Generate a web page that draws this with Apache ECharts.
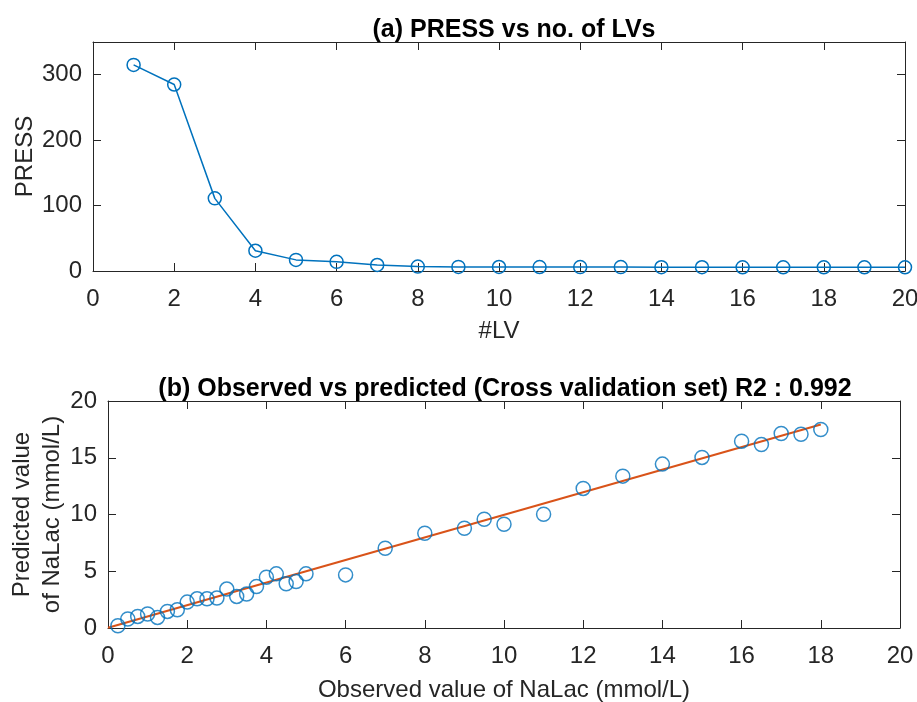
<!DOCTYPE html>
<html>
<head>
<meta charset="utf-8">
<script src="https://cdn.jsdelivr.net/npm/echarts@6/dist/echarts.min.js"></script>
<style>html,body{margin:0;padding:0;background:#fff}#c{width:917px;height:702px}</style>
</head>
<body>
<div id="c"></div>
<script>
// ---- data ----
var lvCounts = [1,2,3,4,5,6,7,8,9,10,11,12,13,14,15,16,17,18,19,20];
var pressValues = [315,285,111,31,17,14,9.2,6.7,6.3,6.2,6.1,6,6,5.8,5.8,5.7,5.7,5.7,5.7,5.7];
var observedValues = [0.25,0.5,0.75,1,1.25,1.5,1.75,2,2.25,2.5,2.75,3,3.25,3.5,3.75,4,4.25,4.5,4.75,5,6,7,8,9,9.5,10,11,12,13,14,15,16,16.5,17,17.5,18];
var predictedValues = [0.2,0.79,1.02,1.23,0.93,1.46,1.61,2.28,2.57,2.57,2.64,3.43,2.78,2.99,3.66,4.48,4.77,3.89,4.09,4.77,4.68,7.03,8.35,8.79,9.58,9.14,10.02,12.3,13.38,14.44,15.03,16.46,16.17,17.14,17.07,17.49];
var fitX = [0,18];
var fitY = [0.02,17.93];
var titleA = '(a) PRESS vs no. of LVs';
var titleB = '(b) Observed vs predicted (Cross validation set) R2 : 0.992';

var FONT = '"Liberation Sans", Arial, Helvetica, sans-serif';
var AX = '#262626';
var BLUE = '#0072BD';
var ORANGE = '#D95319';
var FS = 24;

function pairs(xs, ys){ return xs.map(function(x,i){ return [x, ys[i]]; }); }

function mainX(grid, max, interval, name, gap){
  return {
    type:'value', gridIndex:grid, min:0, max:max, interval:interval,
    name:name, nameLocation:'middle', nameGap:gap, nameMoveOverlap:false,
    nameTextStyle:{fontFamily:FONT,fontSize:FS,color:AX},
    axisLine:{show:true,onZero:false,lineStyle:{color:AX,width:1}},
    axisTick:{show:true,inside:true,length:8,lineStyle:{color:AX}},
    axisLabel:{fontFamily:FONT,fontSize:FS,color:AX,margin:16},
    splitLine:{show:false}
  };
}
function boxX(grid, max, interval){
  return {
    type:'value', gridIndex:grid, position:'top', min:0, max:max, interval:interval,
    axisLine:{show:true,onZero:false,lineStyle:{color:AX,width:1}},
    axisTick:{show:true,inside:true,length:8,lineStyle:{color:AX}},
    axisLabel:{show:false}, splitLine:{show:false}
  };
}
function mainY(grid, max, interval, name, gap){
  return {
    type:'value', gridIndex:grid, min:0, max:max, interval:interval,
    name:name, nameLocation:'middle', nameGap:gap, nameRotate:90, nameMoveOverlap:false,
    nameTextStyle:{fontFamily:FONT,fontSize:FS,color:AX,lineHeight:30},
    axisLine:{show:true,onZero:false,lineStyle:{color:AX,width:1}},
    axisTick:{show:true,inside:true,length:8,lineStyle:{color:AX}},
    axisLabel:{fontFamily:FONT,fontSize:FS,color:AX,margin:11,showMaxLabel:(max%interval===0)},
    splitLine:{show:false}
  };
}
function boxY(grid, max, interval){
  return {
    type:'value', gridIndex:grid, position:'right', min:0, max:max, interval:interval,
    axisLine:{show:true,onZero:false,lineStyle:{color:AX,width:1}},
    axisTick:{show:true,inside:true,length:8,lineStyle:{color:AX}},
    axisLabel:{show:false}, splitLine:{show:false}
  };
}

var chart = echarts.init(document.getElementById('c'), null, {renderer:'canvas'});
chart.setOption({
  backgroundColor:'#fff',
  animation:false,
  title:[
    {text:titleA, left:509, top:13, textAlign:'center',
     textStyle:{fontFamily:FONT,fontSize:25,fontWeight:'bold',color:'#000'}},
    {text:titleB, left:500, top:372, textAlign:'center',
     textStyle:{fontFamily:FONT,fontSize:25,fontWeight:'bold',color:'#000'}}
  ],
  grid:[
    {left:93, top:42, width:812, height:229, containLabel:false, outerBoundsMode:'none'},
    {left:108, top:401, width:792, height:227, containLabel:false, outerBoundsMode:'none'}
  ],
  xAxis:[
    mainX(0,20,2,'#LV',48), boxX(0,20,2),
    mainX(1,20,2,'Observed value of NaLac (mmol/L)',50), boxX(1,20,2)
  ],
  yAxis:[
    mainY(0,350,100,'PRESS',53), boxY(0,350,100),
    mainY(1,20,5,'Predicted value\nof NaLac (mmol/L)',41), boxY(1,20,5)
  ],
  series:[
    {type:'line', xAxisIndex:0, yAxisIndex:0, data:pairs(lvCounts, pressValues),
     symbol:'circle', symbolSize:13,
     lineStyle:{color:BLUE,width:1.5},
     itemStyle:{color:'rgba(0,0,0,0)',borderColor:BLUE,borderWidth:1.5},
     z:3},
    {type:'line', xAxisIndex:2, yAxisIndex:2, data:pairs(fitX, fitY),
     symbol:'none', lineStyle:{color:ORANGE,width:2}, z:2},
    {type:'scatter', xAxisIndex:2, yAxisIndex:2, data:pairs(observedValues, predictedValues),
     symbol:'circle', symbolSize:14,
     itemStyle:{color:'rgba(0,0,0,0)',borderColor:BLUE,borderWidth:1.5}, z:3}
  ]
});
</script>
</body>
</html>
